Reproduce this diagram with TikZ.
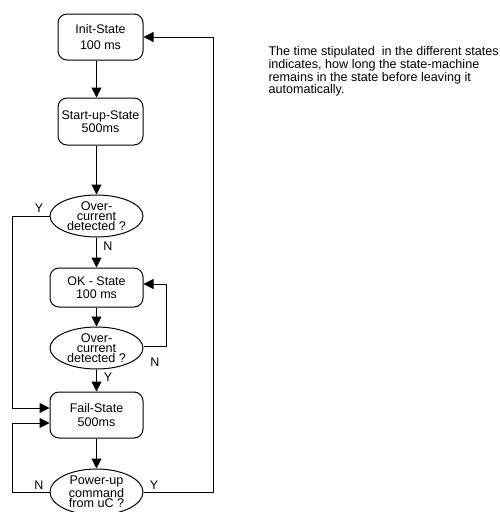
\documentclass[tikz,border=0pt]{standalone}
\usepackage{fontspec}
\setmainfont{Liberation Sans}
\usetikzlibrary{arrows.meta,shapes.geometric}

\begin{document}
\begin{tikzpicture}[x=1pt, y=-1pt, line width=1pt,
    state/.style={draw, rounded corners=9pt, align=center, inner sep=0pt,
        font=\fontsize{12.5}{13.5}\selectfont},
    query/.style={draw, ellipse, align=center, inner sep=0pt,
        minimum width=93pt, font=\fontsize{12.6}{10}\selectfont},
    flow/.style={-{Triangle[length=10pt,width=10pt]}},
    lbl/.style={font=\fontsize{12.5}{14}\selectfont, inner sep=0pt}]

    \useasboundingbox (0, 0) rectangle (500, 512);

    \coordinate (leftx) at (12, 0);
    \coordinate (rightx) at (213, 0);

    \node [state, minimum width=85pt, minimum height=46pt,
        font=\fontsize{12.5}{16}\selectfont] (init) at (100.5, 37) {Init-State\\100 ms};
    \node [state, minimum width=85pt, minimum height=47pt] (startup) at (100.5, 121.5) {Start-up-State\\500ms};
    \node [query, minimum height=42pt] (ovc1) at (96.5, 216) {Over-\\current\\detected ?};
    \node [state, minimum width=93pt, minimum height=39pt] (ok) at (96.5, 287.5) {OK - State\\100 ms};
    \node [query, minimum height=42pt] (ovc2) at (96.5, 348) {Over-\\current\\detected ?};
    \node [state, minimum width=93pt, minimum height=46pt] (fail) at (96.5, 415) {Fail-State\\500ms};
    \node [query, minimum height=46pt] (power) at (96.5, 492) {Power-up\\command\\from uC ?};

    \node [anchor=north west, align=left, inner sep=0pt,
        font=\fontsize{12.6}{11.7}\selectfont] (note) at (268, 46)
        {The time stipulated~ in the different states\\
         indicates, how long the state-machine\\
         remains in the state before leaving it\\
         automatically.};

    % main path
    \draw [flow] (init.south -| ovc1) -- (startup.north -| ovc1);
    \draw [flow] (startup.south -| ovc1) -- (ovc1.north);
    \draw [flow] (ovc1) -- (ok);
    \draw [flow] (ok) -- (ovc2);
    \draw [flow] (ovc2) -- (fail);
    \draw [flow] (fail) -- (power);

    % side paths
    \draw [flow] (ovc1.west) -- (ovc1.west -| leftx) |- ([yshift=7pt]fail.west);
    \draw [flow] ([yshift=2pt]ovc2.east) -- ++(23, 0) |- ([yshift=3.5pt]ok.east);
    \draw [flow] (power.west) -- (power.west -| leftx) |- ([yshift=-8pt]fail.west);
    \draw [flow] (power.east) -- (power.east -| rightx) |- (init.east);

    \node [lbl] (y1) at (39, 208) {Y};
    \node [lbl] (n1) at (108, 246) {N};
    \node [lbl] (n2) at (155, 362) {N};
    \node [lbl] (y2) at (108, 377) {Y};
    \node [lbl] (n3) at (39, 485) {N};
    \node [lbl] (y3) at (154, 485) {Y};
\end{tikzpicture}
\end{document}
